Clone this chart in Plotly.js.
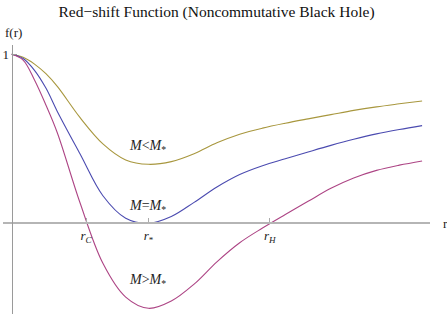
<!DOCTYPE html>
<html>
<head>
<meta charset="utf-8">
<script src="https://cdn.plot.ly/plotly-3.0.1.min.js"></script>
<style>html,body{margin:0;padding:0;background:#fff;}#chart{width:447px;height:314px;}</style>
</head>
<body>
<div id="chart"></div>
<script>
// Values (r in units where r* = 3)
var rGrid  = [0, 0.25, 0.5, 0.75, 1.0, 1.5, 2.0, 2.5, 3.0, 3.5, 4.0, 4.5, 5.0, 5.5, 6.0, 6.5, 7.0, 7.5, 8.0, 8.5, 9.0];
var fLess  = [1, 0.982, 0.942, 0.885, 0.81, 0.625, 0.47, 0.375, 0.349, 0.365, 0.412, 0.476, 0.527, 0.563, 0.592, 0.618, 0.643, 0.668, 0.689, 0.707, 0.724];
var fEqual = [1, 0.975, 0.905, 0.80, 0.662, 0.41, 0.163, 0.03, 0, 0.04, 0.124, 0.215, 0.289, 0.341, 0.382, 0.422, 0.461, 0.497, 0.529, 0.555, 0.578];
var fMore  = [1, 0.966, 0.848, 0.70, 0.536, 0.12, -0.237, -0.437, -0.503, -0.46, -0.36, -0.228, -0.115, -0.028, 0.052, 0.13, 0.207, 0.268, 0.313, 0.344, 0.369];

var xTickVals = [1.63, 3.0, 5.66];
var xTickText = ['<i>r</i><sub><i>C</i></sub>', '<i>r</i><sub>*</sub>', '<i>r</i><sub><i>H</i></sub>'];
var yTickVals = [1];
var yTickText = ['1'];

var curveLabels = ['<i>M</i>&lt;<i>M</i><sub>*</sub>', '<i>M</i>=<i>M</i><sub>*</sub>', '<i>M</i>&gt;<i>M</i><sub>*</sub>'];
var labelR = [2.98, 2.98, 2.98];
var labelF = [0.455, 0.10, -0.34];

var serif = 'Liberation Serif, Times New Roman, serif';

var traces = [
  {x: rGrid, y: fLess,  mode: 'lines', line: {color: '#a8973e', width: 1.1, shape: 'spline', smoothing: 1}},
  {x: rGrid, y: fEqual, mode: 'lines', line: {color: '#4b4bb0', width: 1.1, shape: 'spline', smoothing: 1}},
  {x: rGrid, y: fMore,  mode: 'lines', line: {color: '#ad4585', width: 1.1, shape: 'spline', smoothing: 1}}
];

var annotations = [];
for (var i = 0; i < curveLabels.length; i++) {
  annotations.push({x: labelR[i], y: labelF[i], xref: 'x', yref: 'y', text: curveLabels[i], showarrow: false,
    font: {family: serif, size: 14, color: '#222'}});
}
annotations.push({x: 3/447, y: 1 - 33/314, xref: 'paper', yref: 'paper', xanchor: 'left', yanchor: 'middle',
  text: 'f(r)', showarrow: false, font: {family: serif, size: 13, color: '#222'}});
annotations.push({x: 441/447, y: (314 - 223.3) / 314, xref: 'paper', yref: 'paper', xanchor: 'left', yanchor: 'middle',
  text: 'r', showarrow: false, font: {family: serif, size: 13, color: '#222'}});

var layout = {
  width: 447, height: 314,
  margin: {l: 0, r: 0, t: 0, b: 0},
  paper_bgcolor: '#fff', plot_bgcolor: 'rgba(0,0,0,0)',
  showlegend: false,
  title: {text: 'Red\u2212shift Function (Noncommutative Black Hole)', x: 216.5/447, xanchor: 'center',
          y: 1 - 12/314, yanchor: 'middle', yref: 'container',
          font: {family: serif, size: 15.5, color: '#111'}},
  xaxis: {
    domain: [2.7/447, 430/447], range: [-0.1974, 9.1732],
    anchor: 'free', position: (314 - 223.3) / 314,
    showgrid: false, zeroline: false, showline: true, linecolor: '#b5b5b5', linewidth: 2,
    ticks: 'inside', ticklen: 4, tickwidth: 1, tickcolor: '#aaa',
    tickmode: 'array', tickvals: xTickVals, ticktext: xTickText,
    tickfont: {family: serif, size: 13, color: '#222'}
  },
  yaxis: {
    domain: [0, (314 - 45) / 314], range: [-0.5367, 1.055],
    anchor: 'free', position: 11.7/447,
    showgrid: false, zeroline: false, showline: true, linecolor: '#9a9a9a', linewidth: 1,
    ticks: 'inside', ticklen: 4, tickwidth: 1, tickcolor: '#9a9a9a',
    tickmode: 'array', tickvals: yTickVals, ticktext: yTickText,
    tickfont: {family: serif, size: 13, color: '#222'}
  },
  annotations: annotations
};

Plotly.newPlot('chart', traces, layout, {staticPlot: true, displayModeBar: false});
</script>
</body>
</html>
